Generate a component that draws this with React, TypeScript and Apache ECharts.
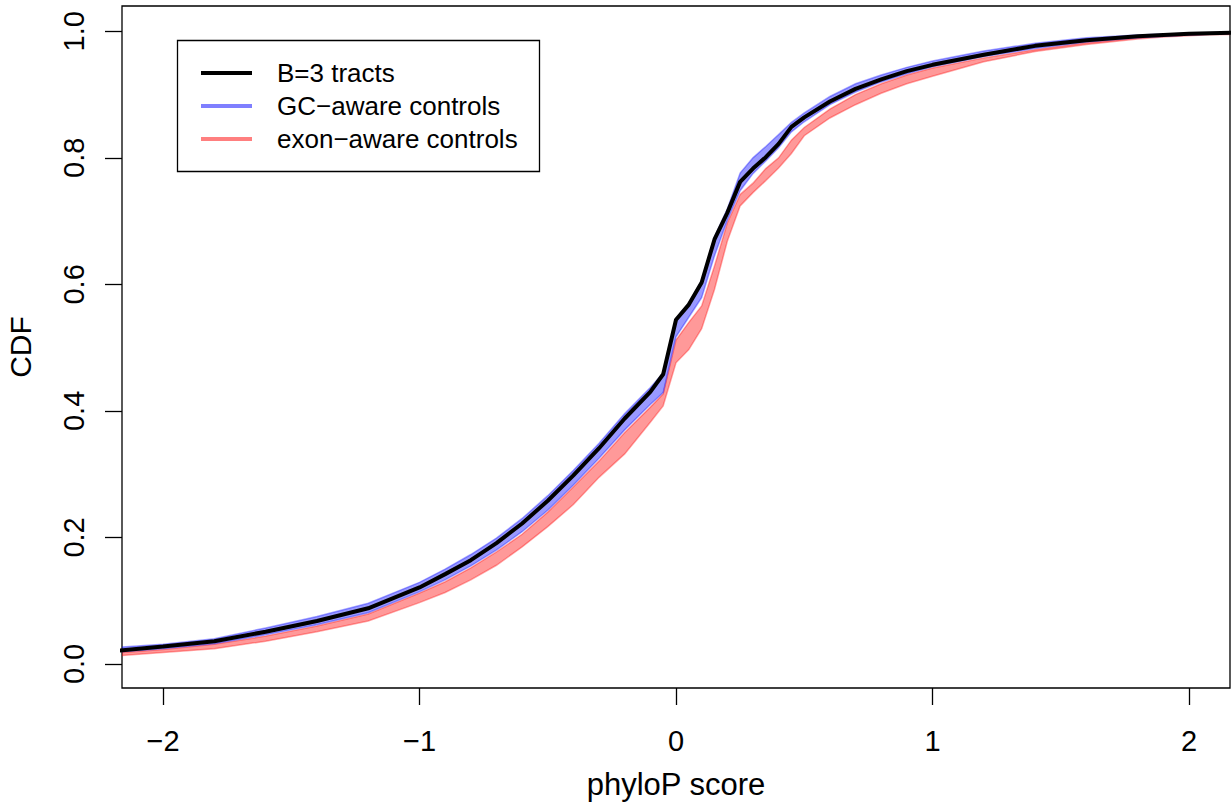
import React, { useEffect, useRef } from "react";
import * as echarts from "echarts";

const xs = [-2.2, -2.0, -1.8, -1.6, -1.4, -1.2, -1.0, -0.9, -0.8, -0.7, -0.6, -0.5, -0.4, -0.3, -0.2, -0.1, -0.05, 0, 0.05, 0.1, 0.15, 0.2, 0.25, 0.3, 0.35, 0.4, 0.45, 0.5, 0.6, 0.7, 0.8, 0.9, 1.0, 1.2, 1.4, 1.6, 1.8, 2.0, 2.2];

const b3Tracts = [0.020, 0.0275, 0.036, 0.051, 0.068, 0.088, 0.121, 0.142, 0.164, 0.191, 0.222, 0.258, 0.298, 0.341, 0.388, 0.430, 0.458, 0.544, 0.568, 0.603, 0.671, 0.713, 0.762, 0.783, 0.801, 0.822, 0.849, 0.864, 0.889, 0.909, 0.924, 0.937, 0.947, 0.963, 0.977, 0.986, 0.992, 0.996, 0.998];

const gcHi = [0.026, 0.031, 0.040, 0.057, 0.075, 0.096, 0.129, 0.150, 0.173, 0.199, 0.230, 0.266, 0.306, 0.349, 0.396, 0.437, 0.460, 0.546, 0.570, 0.606, 0.675, 0.719, 0.776, 0.800, 0.818, 0.837, 0.856, 0.871, 0.897, 0.917, 0.931, 0.943, 0.953, 0.969, 0.981, 0.990, 0.994, 0.997, 0.999];

const gcLo = [0.018, 0.024, 0.032, 0.046, 0.062, 0.081, 0.114, 0.133, 0.155, 0.180, 0.209, 0.243, 0.283, 0.325, 0.370, 0.410, 0.429, 0.517, 0.548, 0.579, 0.645, 0.701, 0.748, 0.775, 0.795, 0.816, 0.841, 0.857, 0.884, 0.904, 0.920, 0.933, 0.944, 0.960, 0.973, 0.983, 0.990, 0.994, 0.997];

const exHi = [0.017, 0.023, 0.031, 0.044, 0.060, 0.079, 0.112, 0.130, 0.152, 0.177, 0.205, 0.240, 0.280, 0.321, 0.366, 0.406, 0.427, 0.512, 0.540, 0.566, 0.629, 0.697, 0.742, 0.760, 0.783, 0.800, 0.828, 0.848, 0.877, 0.900, 0.917, 0.931, 0.942, 0.958, 0.971, 0.982, 0.989, 0.993, 0.997];

const exLo = [0.012, 0.018, 0.024, 0.036, 0.051, 0.068, 0.097, 0.113, 0.133, 0.156, 0.185, 0.217, 0.252, 0.295, 0.332, 0.382, 0.408, 0.476, 0.497, 0.530, 0.592, 0.668, 0.724, 0.745, 0.764, 0.784, 0.807, 0.835, 0.863, 0.884, 0.902, 0.917, 0.929, 0.952, 0.968, 0.979, 0.988, 0.994, 0.995];

const xTicks = [-2, -1, 0, 1, 2];
const yTicks = [0, 0.2, 0.4, 0.6, 0.8, 1.0];
const legendLabels = ["B=3 tracts", "GC\u2212aware controls", "exon\u2212aware controls"];

const FONT = "Liberation Sans, Arial, Helvetica, sans-serif";

function bandSeries(name: string, lo: number[], hi: number[], fill: string, stroke: string) {
  return {
    type: "custom",
    name,
    clip: true,
    silent: true,
    encode: { x: 0, y: [1, 2] },
    data: xs.map((x, i) => [x, lo[i], hi[i]]),
    renderItem: (params: any, api: any) => {
      if (params.dataIndex !== 0) return null;
      const top = xs.map((x, i) => api.coord([x, hi[i]]));
      const bottom = xs.map((x, i) => api.coord([x, lo[i]])).reverse();
      return {
        type: "polygon",
        shape: { points: top.concat(bottom) },
        style: { fill, stroke, lineWidth: 1.5 },
      };
    },
  };
}

export default function App() {
  const ref = useRef<HTMLDivElement>(null);
  useEffect(() => {
    if (!ref.current) return;
    const chart = echarts.init(ref.current, undefined, { renderer: "svg" });
    const fmt = (v: number) => (v < 0 ? "\u2212" + Math.abs(v) : String(v));
    const legendY = [73, 106, 139];
    const legendColors = ["#000000", "rgba(0,0,255,0.5)", "rgba(255,0,0,0.5)"];
    chart.setOption({
      animation: false,
      backgroundColor: "#ffffff",
      grid: {
        left: 122,
        top: 6,
        width: 1108,
        height: 682,
        show: true,
        borderColor: "#000",
        borderWidth: 1.3,
        backgroundColor: "transparent",
        containLabel: false,
        outerBoundsMode: "none",
      },
      xAxis: {
        type: "value",
        min: -2.16,
        max: 2.16,
        name: "phyloP score",
        nameLocation: "middle",
        nameGap: 81,
        nameTextStyle: { fontFamily: FONT, fontSize: 31, color: "#000" },
        axisLine: { show: false, onZero: false },
        splitLine: { show: false },
        axisTick: { show: true, length: 17, customValues: xTicks, lineStyle: { color: "#000", width: 1.3 } },
        axisLabel: {
          customValues: xTicks,
          formatter: fmt,
          margin: 38,
          fontFamily: FONT,
          fontSize: 29,
          color: "#000",
        },
      },
      yAxis: {
        type: "value",
        min: -0.038,
        max: 1.04,
        name: "CDF",
        nameLocation: "middle",
        nameGap: 87,
        nameTextStyle: { fontFamily: FONT, fontSize: 30, color: "#000" },
        axisLine: { show: false, onZero: false },
        splitLine: { show: false },
        axisTick: { show: true, length: 17, customValues: yTicks, lineStyle: { color: "#000", width: 1.3 } },
        axisLabel: {
          customValues: yTicks,
          formatter: (v: number) => v.toFixed(1),
          rotate: 90,
          margin: 34,
          fontFamily: FONT,
          fontSize: 29,
          color: "#000",
        },
      },
      series: [
        bandSeries("exon\u2212aware controls", exLo, exHi, "rgba(255,0,0,0.4)", "rgba(255,0,0,0.35)"),
        bandSeries("GC\u2212aware controls", gcLo, gcHi, "rgba(0,0,255,0.4)", "rgba(0,0,255,0.35)"),
        {
          type: "line",
          name: "B=3 tracts",
          data: xs.map((x, i) => [x, b3Tracts[i]]),
          showSymbol: false,
          symbol: "none",
          lineStyle: { color: "#000", width: 4 },
          z: 5,
        },
      ],
      graphic: [
        {
          type: "rect",
          shape: { x: 177.5, y: 40.5, width: 362, height: 131 },
          style: { fill: "#fff", stroke: "#000", lineWidth: 1.3 },
          z: 10,
        },
        ...legendLabels.map((t, i) => ({
          type: "line",
          shape: { x1: 201, y1: legendY[i], x2: 252, y2: legendY[i] },
          style: { stroke: legendColors[i], lineWidth: 4 },
          z: 11,
        })),
        ...legendLabels.map((t, i) => ({
          type: "text",
          x: 277,
          y: legendY[i],
          style: {
            text: t,
            fontFamily: FONT,
            fontSize: 26,
            fill: "#000",
            verticalAlign: "middle",
            align: "left",
          },
          z: 11,
        })),
      ],
    });
    return () => chart.dispose();
  }, []);
  return (
    <div
      ref={ref}
      style={{ position: "fixed", left: 0, top: 0, width: 1231, height: 805, background: "#fff" }}
    />
  );
}
